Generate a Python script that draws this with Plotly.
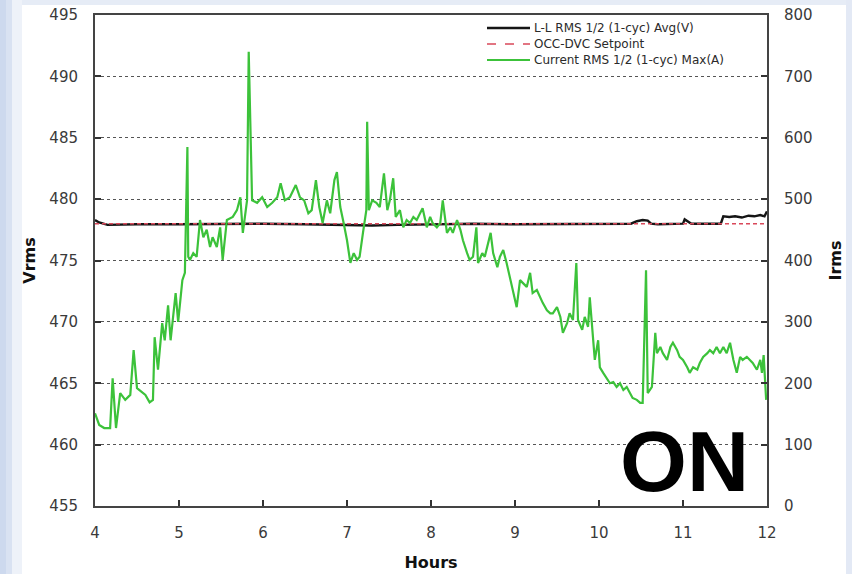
import plotly.graph_objects as go

# Line-to-line RMS voltage (V) over the day
volt_hours = [4.00, 4.05, 4.15, 4.50, 5.00, 5.50, 6.00, 6.50, 7.00, 7.30, 7.60, 8.00, 8.50,
              9.00, 9.50, 10.00, 10.38, 10.45, 10.52, 10.58, 10.62, 10.70, 11.00, 11.02,
              11.06, 11.10, 11.45, 11.48, 11.55, 11.62, 11.70, 11.78, 11.85, 11.92, 11.97, 12.00]
volt_values = [478.3, 478.1, 477.9, 477.95, 477.95, 478.0, 478.0, 477.95, 477.9, 477.85, 477.9,
               477.95, 478.0, 477.95, 477.95, 477.95, 478.0, 478.2, 478.3, 478.25, 478.0, 477.95,
               478.0, 478.35, 478.2, 478.0, 478.0, 478.6, 478.55, 478.6, 478.5, 478.65, 478.6,
               478.7, 478.6, 479.0]

# Controller voltage setpoint (V)
setpoint_hours = [4.0, 12.0]
setpoint_values = [478.0, 478.0]

# Current RMS maximum (A)
amp_hours = [4.00, 4.05, 4.11, 4.18, 4.21, 4.25, 4.30, 4.36, 4.42, 4.46, 4.50, 4.60, 4.65, 4.69,
             4.71, 4.75, 4.80, 4.83, 4.87, 4.90, 4.96, 4.99, 5.04, 5.07, 5.10, 5.11, 5.13, 5.17,
             5.21, 5.25, 5.29, 5.33, 5.37, 5.40, 5.45, 5.49, 5.52, 5.57, 5.64, 5.69, 5.73, 5.76,
             5.81, 5.83, 5.87, 5.93, 5.99, 6.05, 6.11, 6.17, 6.21, 6.26, 6.32, 6.39, 6.44, 6.49,
             6.54, 6.58, 6.63, 6.67, 6.71, 6.76, 6.80, 6.85, 6.88, 6.92, 6.96, 7.00, 7.04, 7.08,
             7.12, 7.15, 7.19, 7.23, 7.24, 7.26, 7.30, 7.35, 7.39, 7.44, 7.48, 7.51, 7.55, 7.58,
             7.63, 7.67, 7.71, 7.75, 7.79, 7.83, 7.87, 7.90, 7.95, 7.99, 8.02, 8.07, 8.11, 8.14,
             8.19, 8.23, 8.26, 8.31, 8.35, 8.38, 8.43, 8.46, 8.50, 8.54, 8.56, 8.61, 8.64, 8.68,
             8.71, 8.74, 8.79, 8.82, 8.86, 8.90, 8.94, 8.98, 9.02, 9.06, 9.10, 9.14, 9.18, 9.21,
             9.26, 9.30, 9.33, 9.38, 9.42, 9.45, 9.50, 9.54, 9.57, 9.62, 9.65, 9.69, 9.73, 9.75,
             9.80, 9.83, 9.87, 9.89, 9.92, 9.95, 9.99, 10.01, 10.05, 10.10, 10.13, 10.17, 10.21,
             10.25, 10.29, 10.33, 10.37, 10.40, 10.45, 10.49, 10.52, 10.56, 10.58, 10.63, 10.67,
             10.69, 10.73, 10.76, 10.81, 10.85, 10.88, 10.93, 10.96, 11.00, 11.05, 11.08, 11.12,
             11.17, 11.20, 11.24, 11.29, 11.32, 11.36, 11.40, 11.44, 11.48, 11.52, 11.56, 11.60,
             11.64, 11.68, 11.71, 11.76, 11.80, 11.83, 11.88, 11.92, 11.94, 11.96, 11.99]
amp_values = [151, 132, 127, 127, 208, 127, 184, 173, 181, 254, 192, 181, 169, 173,
              275, 222, 298, 270, 327, 270, 347, 300, 368, 380, 585, 406, 401, 412,
              406, 466, 438, 450, 422, 438, 422, 454, 401, 466, 471, 482, 503, 445,
              498, 740, 498, 494, 503, 487, 494, 503, 526, 498, 503, 523, 503, 498,
              477, 482, 531, 487, 461, 498, 477, 531, 544, 487, 461, 433, 396, 412,
              401, 406, 445, 482, 626, 482, 498, 494, 487, 542, 482, 498, 534, 471,
              482, 454, 466, 461, 471, 466, 477, 485, 454, 471, 461, 454, 461, 498,
              445, 454, 445, 466, 450, 433, 412, 401, 406, 454, 396, 412, 406, 428,
              445, 412, 389, 406, 417, 396, 373, 352, 324, 368, 363, 357, 380, 347,
              352, 340, 331, 319, 314, 314, 324, 308, 282, 298, 314, 303, 396, 303,
              287, 308, 292, 340, 282, 238, 270, 226, 217, 205, 200, 202, 194,
              200, 189, 194, 184, 176, 173, 168, 168, 384, 184, 194, 282,
              249, 259, 249, 238, 259, 266, 254, 243, 238, 226, 217, 226,
              222, 233, 243, 249, 254, 249, 259, 249, 259, 249, 266, 238,
              217, 243, 238, 243, 238, 233, 222, 238, 217, 246, 173]

x_ticks = [4, 5, 6, 7, 8, 9, 10, 11, 12]
v_ticks = [455, 460, 465, 470, 475, 480, 485, 490, 495]
a_ticks = [0, 100, 200, 300, 400, 500, 600, 700, 800]

W, H = 852, 574
L, R, T, B = 95, 85, 15, 68
PW, PH = W - L - R, H - T - B


def px(p):
    return (p - L) / PW


def py(q):
    return 1 - (q - T) / PH


BLACK = "#151515"
RED = "#d9485a"
GREEN = "#3cc23a"

fig = go.Figure()
fig.add_trace(go.Scatter(x=volt_hours, y=volt_values, mode="lines",
                         name="L-L RMS 1/2 (1-cyc) Avg(V)",
                         line=dict(color=BLACK, width=2.4)))
fig.add_trace(go.Scatter(x=setpoint_hours, y=setpoint_values, mode="lines",
                         name="OCC-DVC Setpoint",
                         line=dict(color=RED, width=1.6, dash="4px,3px")))
fig.add_trace(go.Scatter(x=amp_hours, y=amp_values, mode="lines", yaxis="y2",
                         name="Current RMS 1/2 (1-cyc) Max(A)",
                         line=dict(color=GREEN, width=2.2)))

axis_font = dict(family="DejaVu Sans", size=15, color="#3a3a3a")
title_font = dict(family="DejaVu Sans", size=16, color="#111111")

fig.update_layout(
    width=W, height=H,
    margin=dict(l=L, r=R, t=T, b=B),
    paper_bgcolor="white",
    plot_bgcolor="white",
    showlegend=False,
    xaxis=dict(range=[4, 12], tickvals=x_ticks, ticktext=[str(t) for t in x_ticks],
               ticks="inside", ticklen=6, tickwidth=2, tickcolor="#333",
               showline=True, linewidth=2, linecolor="#444", mirror=True,
               showgrid=False, zeroline=False, tickfont=axis_font,
               ticklabelstandoff=12, automargin=False,
               title=dict(text="<b>Hours</b>", font=title_font, standoff=16)),
    yaxis=dict(range=[455, 495], tickvals=v_ticks, ticktext=[str(t) for t in v_ticks],
               ticks="inside", ticklen=6, tickwidth=2, tickcolor="#333",
               showline=True, linewidth=2, linecolor="#444",
               showgrid=True, gridcolor="#555", gridwidth=1, griddash="3px,3px",
               zeroline=False, tickfont=axis_font, ticklabelstandoff=12, automargin=False,
               title=dict(text="<b>Vrms</b>", font=title_font, standoff=10)),
    yaxis2=dict(range=[0, 800], tickvals=a_ticks, ticktext=[str(t) for t in a_ticks],
                overlaying="y", side="right",
                ticks="inside", ticklen=6, tickwidth=2, tickcolor="#333",
                showline=True, linewidth=2, linecolor="#444",
                showgrid=False, zeroline=False, tickfont=axis_font, ticklabelstandoff=12,
                automargin=False,
                title=dict(text="<b>Irms</b>", font=title_font, standoff=18)),
)

# Key box in the upper right corner of the plot
fig.add_shape(type="rect", xref="paper", yref="paper",
              x0=px(484), x1=px(765), y0=py(70), y1=py(16),
              fillcolor="white", line=dict(width=0), layer="above")
key_rows = [
    ("L-L RMS 1/2 (1-cyc) Avg(V)", BLACK, "solid", 2.4, 28),
    ("OCC-DVC Setpoint", RED, "dash", 1.6, 44),
    ("Current RMS 1/2 (1-cyc) Max(A)", GREEN, "solid", 2.2, 60),
]
for label, col, dash, w, yy in key_rows:
    fig.add_shape(type="line", xref="paper", yref="paper",
                  x0=px(487), x1=px(530), y0=py(yy), y1=py(yy),
                  line=dict(color=col, width=w, dash=dash), layer="above")
    fig.add_annotation(text=label, xref="paper", yref="paper",
                       x=px(532), y=py(yy), xanchor="left", yanchor="middle",
                       showarrow=False,
                       font=dict(family="DejaVu Sans", size=12, color="#2a2a2a"))

# Pale blue slide background showing along the left and top edges
strips = [(0, 6, "#cdd9ee"), (6, 12, "#d9e2f2"), (12, 22, "#eef2f9")]
for x0, x1, col in strips:
    fig.add_shape(type="rect", xref="paper", yref="paper",
                  x0=px(x0), x1=px(x1), y0=py(H), y1=py(0),
                  fillcolor=col, line=dict(width=0), layer="below")
fig.add_shape(type="rect", xref="paper", yref="paper",
              x0=px(22), x1=px(W), y0=py(5), y1=py(0),
              fillcolor="#e6ecf6", line=dict(width=0), layer="below")
fig.add_shape(type="rect", xref="paper", yref="paper",
              x0=px(846), x1=px(W), y0=py(H), y1=py(0),
              fillcolor="#e3e9f5", line=dict(width=0), layer="below")

fig.add_annotation(text="<b>ON</b>", xref="paper", yref="paper",
                   x=px(684), y=py(461), xanchor="center", yanchor="middle",
                   showarrow=False,
                   font=dict(family="Liberation Sans", size=86, color="black"))

fig.write_html("out.html")
